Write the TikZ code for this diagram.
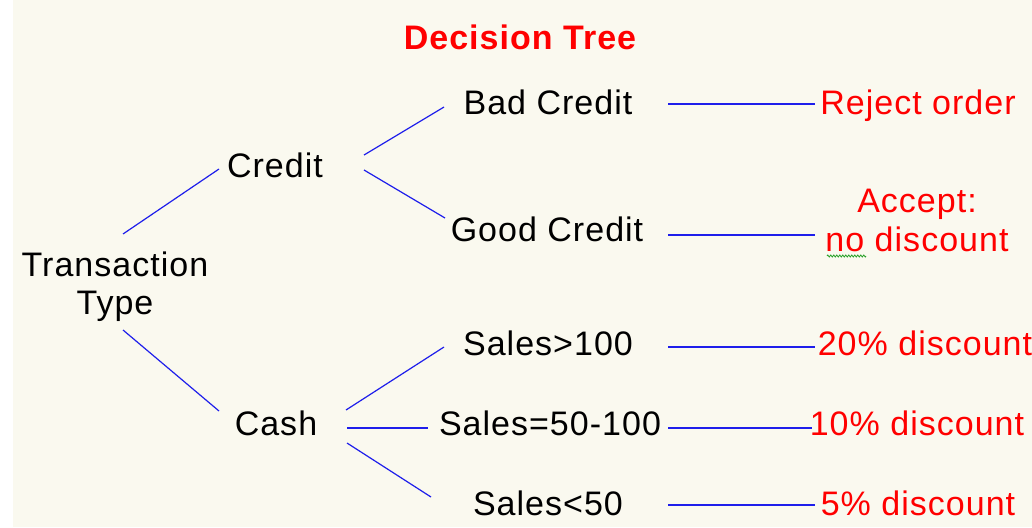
\documentclass[tikz,border=0pt]{standalone}
\usepackage{fontspec}
\setmainfont{Liberation Sans}[LetterSpace=3]
\usetikzlibrary{decorations.pathmorphing}
\definecolor{paper}{RGB}{250,249,239}
\definecolor{lineblue}{RGB}{30,30,235}
\definecolor{squig}{RGB}{40,160,40}
\begin{document}
\begin{tikzpicture}[x=1pt,y=-1pt,
  lbl/.style={inner sep=0pt,font=\fontsize{34}{38}\selectfont,text height=24pt,text depth=0pt},
  lbl2/.style={inner sep=0pt,font=\fontsize{34}{39}\selectfont,align=center},
  outc/.style={text=red},
  conn/.style={draw=lineblue,line width=1.2pt}]
\fill[paper] (0,0) rectangle (1032,527);
\fill[white] (0,0) rectangle (13,527);
\useasboundingbox (0,0) rectangle (1032,527);

\node[lbl,outc,font=\fontsize{34}{38}\selectfont\bfseries] (title) at (520,37) {Decision Tree};

\node[lbl2,font=\fontsize{34}{38}\selectfont] (tt) at (115,287) {Transaction\\Type};
\node[lbl] (credit) at (275,165) {Credit};
\node[lbl] (cash) at (276,423) {Cash};

\node[lbl] (bad) at (548,102) {Bad Credit};
\node[lbl] (good) at (547,229) {Good Credit};
\node[lbl] (s1) at (548,343) {Sales>100};
\node[lbl] (s2) at (550,423) {Sales=50-100};
\node[lbl] (s3) at (548,503) {Sales<50};

\node[lbl,outc] (rej) at (918,102) {Reject order};
\node[lbl2,outc] (acc) at (917,220) {Accept:\\no discount};
\node[lbl,outc] (d20) at (925,343) {20\% discount};
\node[lbl,outc] (d10) at (917,423) {10\% discount};
\node[lbl,outc] (d5) at (918,503) {5\% discount};

% connectors
\draw[conn] ([shift={(8,-53)}]tt.center) -- ([shift={(-56,4)}]credit.center);
\draw[conn] ([shift={(8,43)}]tt.center) -- ([shift={(-57,-12)}]cash.center);

\draw[conn] ([shift={(89,-10)}]credit.center) -- ([shift={(-104,5)}]bad.center);
\draw[conn] ([shift={(89,5)}]credit.center) -- ([shift={(-102,-11)}]good.center);

\draw[conn] ([shift={(70,-13)}]cash.center) -- ([shift={(-104,4)}]s1.center);
\draw[conn] ([shift={(71,5)}]cash.center) -- ([shift={(-122,5)}]s2.center);
\draw[conn] ([shift={(71,20)}]cash.center) -- ([shift={(-117,-6)}]s3.center);

\draw[conn] ([shift={(120,2)}]bad.center) -- ([shift={(-103,2)}]rej.center);
\draw[conn] ([shift={(121,6)}]good.center) -- ([shift={(-102,15)}]acc.center);
\draw[conn] ([shift={(120,4)}]s1.center) -- ([shift={(-110,4)}]d20.center);
\draw[conn] ([shift={(118,5)}]s2.center) -- ([shift={(-105,5)}]d10.center);
\draw[conn] ([shift={(120,2)}]s3.center) -- ([shift={(-103,2)}]d5.center);

% spell-check squiggle under "no"
\draw[squig,line width=0.8pt,decorate,decoration={zigzag,segment length=3pt,amplitude=1pt}]
  ([shift={(-90,36)}]acc.center) -- ([shift={(-51,36)}]acc.center);
\end{tikzpicture}
\end{document}
